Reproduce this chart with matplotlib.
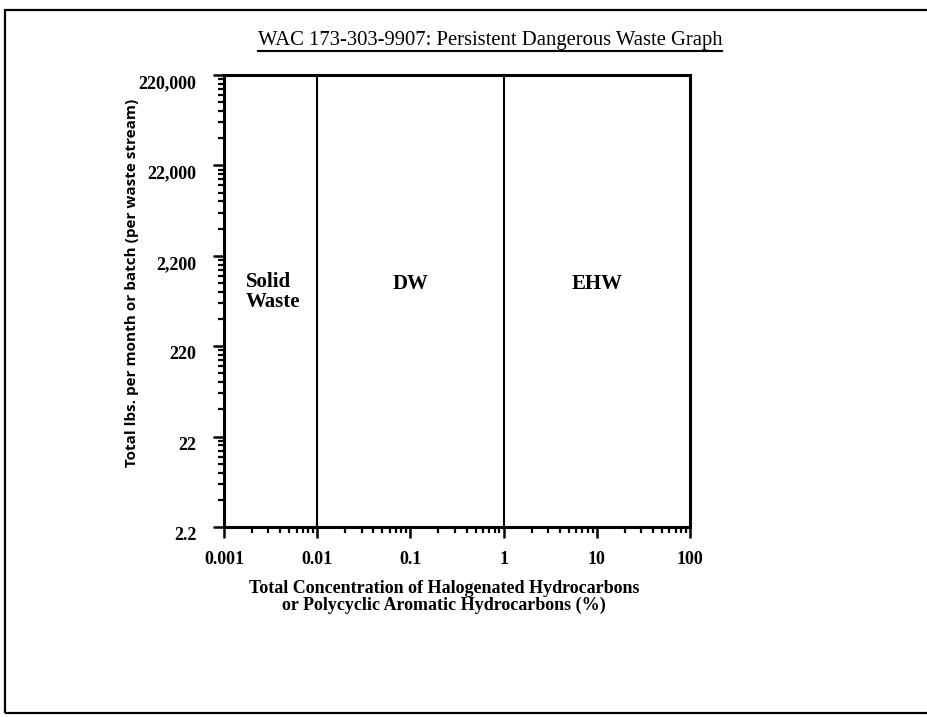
import numpy as np
import matplotlib
matplotlib.use('Agg')
import matplotlib.pyplot as plt
from matplotlib.ticker import FixedLocator, FixedFormatter, LogLocator, NullFormatter
from matplotlib.lines import Line2D
from matplotlib.patches import Rectangle

# data
x_ticks = [0.001, 0.01, 0.1, 1, 10, 100]
x_labels = ['0.001', '0.01', '0.1', '1', '10', '100']
y_ticks = [2.2, 22, 220, 2200, 22000, 220000]
y_labels = ['2.2', '22', '220', '2,200', '22,000', '220,000']
boundaries = [0.01, 1]
regions = ['Solid\nWaste', 'DW', 'EHW']
region_x = [0.0017, 0.1, 10]

W, H = 927, 717
fig = plt.figure(figsize=(W / 100, H / 100), dpi=100)
plt.rcParams['font.family'] = ['Liberation Serif', 'DejaVu Serif']

def fx(px):
    return px / W
def fy(py):
    return 1 - py / H

# page frame (right side is cut off in the scan)
fig.patches.append(Rectangle((fx(5), fy(713)), 1.2, fy(10) - fy(713),
                             transform=fig.transFigure, fill=False,
                             lw=1.6, ec='black'))

ax = fig.add_axes([fx(224), fy(527), fx(690) - fx(224), fy(75) - fy(527)])
ax.set_xscale('log')
ax.set_yscale('log')
ax.set_xlim(x_ticks[0], x_ticks[-1])
ax.set_ylim(y_ticks[0], y_ticks[-1])

for b in boundaries:
    ax.axvline(b, color='black', lw=1.5)

ax.xaxis.set_major_locator(FixedLocator(x_ticks))
ax.xaxis.set_major_formatter(FixedFormatter(x_labels))
ax.xaxis.set_minor_locator(LogLocator(base=10, subs=np.arange(2, 10)))
ax.xaxis.set_minor_formatter(NullFormatter())

ax.yaxis.set_major_locator(FixedLocator(y_ticks))
ax.yaxis.set_major_formatter(FixedFormatter(y_labels))
ax.yaxis.set_minor_locator(FixedLocator([v * k for v in y_ticks[:-1] for k in range(2, 10)]))
ax.yaxis.set_minor_formatter(NullFormatter())

for s in ax.spines.values():
    s.set_linewidth(2.2)
ax.tick_params(which='major', direction='out', length=8, width=1.8,
               labelsize=13)
ax.tick_params(axis='x', which='major', pad=9)
ax.tick_params(axis='y', which='major', pad=12)
ax.tick_params(which='minor', direction='out', length=4, width=1.6)
for lab in ax.get_xticklabels() + ax.get_yticklabels():
    lab.set_fontweight('bold')
for lab in ax.get_yticklabels():
    lab.set_va('top')

# region names: x in data units, y as a fraction of the axes height
tr = ax.get_xaxis_transform()
for i in range(len(regions)):
    ha = 'left' if i == 0 else 'center'
    yy = (527 - 292) / 452 if i == 0 else (527 - 284) / 452
    ax.text(region_x[i], yy, regions[i], transform=tr, ha=ha,
            va='center', fontsize=15, fontweight='bold', linespacing=1.0)

ax.set_ylabel('Total lbs. per month or batch (per waste stream)',
              fontsize=11, fontweight='bold', family=['Open Sans', 'DejaVu Sans'])
ax.yaxis.set_label_coords((139 - 224) / (690 - 224), (527 - 283) / 452)

fig.text(fx(444), fy(597), 'Total Concentration of Halogenated Hydrocarbons\n'
         'or Polycyclic Aromatic Hydrocarbons (%)', ha='center', va='center',
         fontsize=13, fontweight='bold', linespacing=1.05)

fig.text(fx(490), fy(41), 'WAC 173-303-9907: Persistent Dangerous Waste Graph',
         ha='center', va='center', fontsize=14.9)
fig.add_artist(Line2D([fx(258), fx(722)], [fy(51), fy(51)],
                      transform=fig.transFigure, color='black', lw=1.5))

fig.savefig('out.png', dpi=100)
